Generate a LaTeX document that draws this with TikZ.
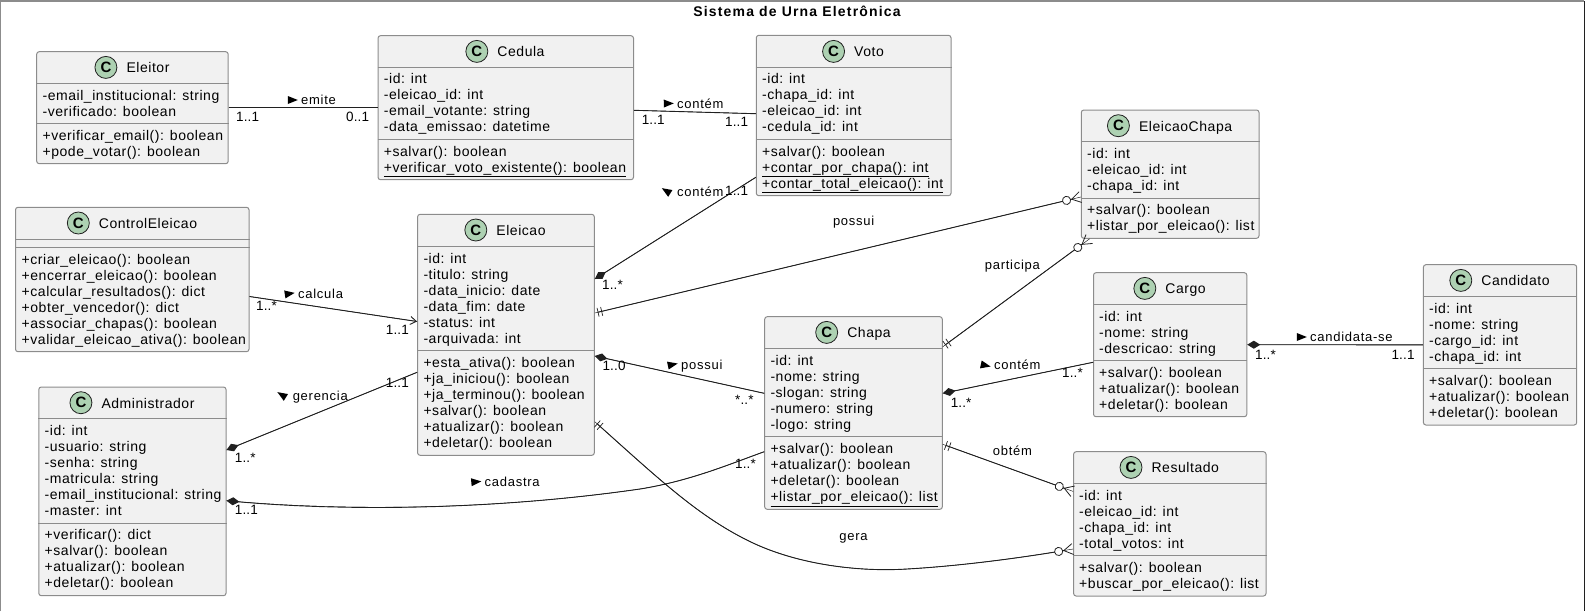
\documentclass[tikz,border=0pt]{standalone}
\usepackage{fontspec}
\setmainfont{Liberation Sans}
\usetikzlibrary{positioning,arrows.meta,shapes.geometric}
\definecolor{classfill}{HTML}{F1F1F1}
\definecolor{classline}{HTML}{8C8C8C}
\definecolor{iconfill}{HTML}{ADD1B2}
\definecolor{linkline}{HTML}{202020}
\tikzset{
  classbox/.style={draw=classline,fill=classfill,line width=1pt,rounded corners=2.5pt,inner sep=0pt},
  classtitle/.style={anchor=base,inner sep=0pt,font=\fontsize{14}{16}\selectfont\addfontfeature{LetterSpace=3.9}},
  classicon/.style={circle,draw=linkline,fill=iconfill,line width=.8pt,minimum size=22pt,inner sep=0pt,font=\fontsize{15}{15}\selectfont\bfseries},
  classsep/.style={draw=classline,line width=1pt},
  members/.style={anchor=north west,align=left,inner sep=0pt,font=\fontsize{14}{16}\selectfont\addfontfeature{LetterSpace=3.9}},
  linklabel/.style={anchor=base west,inner sep=0pt,font=\fontsize{13}{15}\selectfont\addfontfeature{LetterSpace=5.6}},
  mult/.style={anchor=base west,inner sep=0pt,font=\fontsize{13.5}{15}\selectfont\addfontfeature{LetterSpace=1}},
  dirmark/.style={isosceles triangle,isosceles triangle stretches,fill=black,inner sep=0pt,minimum width=8pt,minimum height=10pt},
  link/.style={draw=linkline,line width=.9pt,preaction={draw,arrows=-}},
  compstart/.style={arrows={{Diamond[length=13pt,width=8pt]}-}},
  onemany/.style={arrows={{Bar[width=9pt,sep=3pt,line width=.7pt]Bar[width=9pt,sep=3pt,line width=.7pt]}-{Circle[open,fill=white,length=9pt,line width=.8pt]Straight Barb[reversed,length=9pt,width=11pt,line width=.8pt]}}},
  openend/.style={arrows={-{Straight Barb[length=6pt,width=8pt,line width=.9pt]}}}
}
\begin{document}
\begin{tikzpicture}[x=1pt,y=-1pt]
  \useasboundingbox (0,0) rectangle (1585,611);
  \draw[classline,line width=1.4pt] (0.5,611) -- (0.5,1) -- (1584,1);
  \draw[linkline,line width=.8pt] (1584,1) -- (1584,611);
  \node[anchor=base,inner sep=0pt,font=\fontsize{14}{16}\selectfont\bfseries\addfontfeature{LetterSpace=8.5}] (frametitle) at (797,16) {Sistema de Urna Eletrônica};

  \node[classbox,minimum width=191.5pt,minimum height=112pt] (eleitor) at (132.45,107.7) {};
  \node[classtitle] (eleitortitle) at (148,72.7) {Eleitor};
  \node[classicon,left=9pt of eleitortitle.base west,yshift=5.3pt] (eleitoricon) {C};
  \draw[classsep] (eleitor.west |- 0,83.3) -- (eleitor.east |- 0,83.3);
  \draw[classsep] (eleitor.west |- 0,123.3) -- (eleitor.east |- 0,123.3);
  \node[members] (eleitorattrs) at (42.4,89.8) {-email\_institucional: string\\-verificado: boolean};
  \node[members] (eleitormeths) at (42.4,129.8) {+verificar\_email(): boolean\\+pode\_votar(): boolean};

  \node[classbox,minimum width=255.5pt,minimum height=144pt] (cedula) at (505.75,107.7) {};
  \node[classtitle] (cedulatitle) at (521,56.7) {Cedula};
  \node[classicon,left=9pt of cedulatitle.base west,yshift=5.3pt] (cedulaicon) {C};
  \draw[classsep] (cedula.west |- 0,67) -- (cedula.east |- 0,67);
  \draw[classsep] (cedula.west |- 0,139.3) -- (cedula.east |- 0,139.3);
  \node[members] (cedulaattrs) at (383.7,73.5) {-id: int\\-eleicao\_id: int\\-email\_votante: string\\-data\_emissao: datetime};
  \node[members] (cedulameths) at (383.7,145.8) {+salvar(): boolean\\\underline{+verificar\_voto\_existente(): boolean}};

  \node[classbox,minimum width=194.7pt,minimum height=160.4pt] (voto) at (853.65,115.5) {};
  \node[classtitle] (vototitle) at (869,56.7) {Voto};
  \node[classicon,left=9pt of vototitle.base west,yshift=5.3pt] (votoicon) {C};
  \draw[classsep] (voto.west |- 0,67) -- (voto.east |- 0,67);
  \draw[classsep] (voto.west |- 0,139.3) -- (voto.east |- 0,139.3);
  \node[members] (votoattrs) at (762,73.5) {-id: int\\-chapa\_id: int\\-eleicao\_id: int\\-cedula\_id: int};
  \node[members] (votometh) at (762,145.8) {+salvar(): boolean\\\underline{+contar\_por\_chapa(): int}\\\underline{+contar\_total\_eleicao(): int}};

  \node[classbox,minimum width=177.7pt,minimum height=128.3pt] (eleicaochapa) at (1170.15,174.15) {};
  \node[classtitle] (eleicaochapatitle) at (1185.6,131) {EleicaoChapa};
  \node[classicon,left=9pt of eleicaochapatitle.base west,yshift=5.3pt] (eleicaochapaicon) {C};
  \draw[classsep] (eleicaochapa.west |- 0,141.7) -- (eleicaochapa.east |- 0,141.7);
  \draw[classsep] (eleicaochapa.west |- 0,198) -- (eleicaochapa.east |- 0,198);
  \node[members] (eleicaochapaattrs) at (1087,148.2) {-id: int\\-eleicao\_id: int\\-chapa\_id: int};
  \node[members] (eleicaochapameths) at (1087,204.5) {+salvar(): boolean\\+listar\_por\_eleicao(): list};

  \node[classbox,minimum width=233.5pt,minimum height=144.4pt] (controleleicao) at (132.25,279.5) {};
  \node[classtitle] (controleleicaotitle) at (148,228.3) {ControlEleicao};
  \node[classicon,left=9pt of controleleicaotitle.base west,yshift=5.3pt] (controleleicaoicon) {C};
  \draw[classsep] (controleleicao.west |- 0,239) -- (controleleicao.east |- 0,239);
  \draw[classsep] (controleleicao.west |- 0,247.3) -- (controleleicao.east |- 0,247.3);
  \node[members] (controleleicaometh) at (21.5,253.8) {+criar\_eleicao(): boolean\\+encerrar\_eleicao(): boolean\\+calcular\_resultados(): dict\\+obter\_vencedor(): dict\\+associar\_chapas(): boolean\\+validar\_eleicao\_ativa(): boolean};

  \node[classbox,minimum width=176.7pt,minimum height=241pt] (eleicao) at (505.95,334.8) {};
  \node[classtitle] (eleicaotitle) at (521,235.3) {Eleicao};
  \node[classicon,left=9pt of eleicaotitle.base west,yshift=5.3pt] (eleicaoicon) {C};
  \draw[classsep] (eleicao.west |- 0,246.3) -- (eleicao.east |- 0,246.3);
  \draw[classsep] (eleicao.west |- 0,350.3) -- (eleicao.east |- 0,350.3);
  \node[members] (eleicaoattrs) at (423.3,252.8) {-id: int\\-titulo: string\\-data\_inicio: date\\-data\_fim: date\\-status: int\\-arquivada: int};
  \node[members] (eleicaometh) at (423.3,356.8) {+esta\_ativa(): boolean\\+ja\_iniciou(): boolean\\+ja\_terminou(): boolean\\+salvar(): boolean\\+atualizar(): boolean\\+deletar(): boolean};

  \node[classbox,minimum width=187.2pt,minimum height=208.7pt] (administrador) at (132.4,491.35) {};
  \node[classtitle] (administradortitle) at (148,408) {Administrador};
  \node[classicon,left=9pt of administradortitle.base west,yshift=5.3pt] (administradoricon) {C};
  \draw[classsep] (administrador.west |- 0,418.7) -- (administrador.east |- 0,418.7);
  \draw[classsep] (administrador.west |- 0,523) -- (administrador.east |- 0,523);
  \node[members] (administradorattrs) at (44.5,425.2) {-id: int\\-usuario: string\\-senha: string\\-matricula: string\\-email\_institucional: string\\-master: int};
  \node[members] (administradormeth) at (44.5,529.5) {+verificar(): dict\\+salvar(): boolean\\+atualizar(): boolean\\+deletar(): boolean};

  \node[classbox,minimum width=177.6pt,minimum height=192.6pt] (chapa) at (853.5,413) {};
  \node[classtitle] (chapatitle) at (869,337.7) {Chapa};
  \node[classicon,left=9pt of chapatitle.base west,yshift=5.3pt] (chapaicon) {C};
  \draw[classsep] (chapa.west |- 0,348.3) -- (chapa.east |- 0,348.3);
  \draw[classsep] (chapa.west |- 0,436.7) -- (chapa.east |- 0,436.7);
  \node[members] (chapaattrs) at (770.3,354.8) {-id: int\\-nome: string\\-slogan: string\\-numero: string\\-logo: string};
  \node[members] (chapameth) at (770.3,443.2) {+salvar(): boolean\\+atualizar(): boolean\\+deletar(): boolean\\\underline{+listar\_por\_eleicao(): list}};

  \node[classbox,minimum width=153.3pt,minimum height=144pt] (cargo) at (1170.15,344.7) {};
  \node[classtitle] (cargotitle) at (1185.6,293.7) {Cargo};
  \node[classicon,left=9pt of cargotitle.base west,yshift=5.3pt] (cargoicon) {C};
  \draw[classsep] (cargo.west |- 0,304.3) -- (cargo.east |- 0,304.3);
  \draw[classsep] (cargo.west |- 0,360.3) -- (cargo.east |- 0,360.3);
  \node[members] (cargoattrs) at (1099,310.8) {-id: int\\-nome: string\\-descricao: string};
  \node[members] (cargometh) at (1099,366.8) {+salvar(): boolean\\+atualizar(): boolean\\+deletar(): boolean};

  \node[classbox,minimum width=153.3pt,minimum height=160.3pt] (candidato) at (1500.05,344.85) {};
  \node[classtitle] (candidatotitle) at (1515.5,285.7) {Candidato};
  \node[classicon,left=9pt of candidatotitle.base west,yshift=5.3pt] (candidatoicon) {C};
  \draw[classsep] (candidato.west |- 0,296.3) -- (candidato.east |- 0,296.3);
  \draw[classsep] (candidato.west |- 0,368.7) -- (candidato.east |- 0,368.7);
  \node[members] (candidatoattrs) at (1429,302.8) {-id: int\\-nome: string\\-cargo\_id: int\\-chapa\_id: int};
  \node[members] (candidatometh) at (1429,375.2) {+salvar(): boolean\\+atualizar(): boolean\\+deletar(): boolean};

  \node[classbox,minimum width=192.4pt,minimum height=144.3pt] (resultado) at (1169.8,523.85) {};
  \node[classtitle] (resultadotitle) at (1185.3,472.7) {Resultado};
  \node[classicon,left=9pt of resultadotitle.base west,yshift=5.3pt] (resultadoicon) {C};
  \draw[classsep] (resultado.west |- 0,483.3) -- (resultado.east |- 0,483.3);
  \draw[classsep] (resultado.west |- 0,555.7) -- (resultado.east |- 0,555.7);
  \node[members] (resultadoattrs) at (1079,489.8) {-id: int\\-eleicao\_id: int\\-chapa\_id: int\\-total\_votos: int};
  \node[members] (resultadometh) at (1079,562.2) {+salvar(): boolean\\+buscar\_por\_eleicao(): list};

  \draw[link] ([yshift=.2pt]eleitor.east) -- ([yshift=.2pt]cedula.west);
  \draw[link] ([yshift=-2.6pt]cedula.east) -- ([yshift=1.8pt]voto.west);
  \draw[link,compstart] ([yshift=55.8pt]eleicao.east) -- ([yshift=-61.8pt]voto.west);
  \draw[link,onemany] ([yshift=21.8pt]eleicao.east) -- ([yshift=-22.85pt]eleicaochapa.west);
  \draw[link,onemany] ([yshift=66.3pt]chapa.east) -- ([xshift=-80.55pt]eleicaochapa.south);
  \draw[link,openend] ([yshift=-17pt]controleleicao.east) -- ([yshift=13.3pt]eleicao.west);
  \draw[link,compstart] ([yshift=41.35pt]administrador.east) -- ([yshift=-37.5pt]eleicao.west);
  \draw[link,compstart] ([yshift=-9.35pt]administrador.east) .. controls (330,510) and (480,512) .. (640,489) .. controls (690,481) and (730,464) .. ([yshift=-38.7pt]chapa.west);
  \draw[link,compstart] ([yshift=-21.2pt]eleicao.east) -- ([yshift=19.7pt]chapa.west);
  \draw[link,onemany] ([yshift=-86.9pt]eleicao.east) .. controls (660,480) and (700,518) .. (753,543) .. controls (800,565) and (860,572) .. (907,569) .. controls (960,566) and (1020,558) .. ([yshift=-25.15pt]resultado.west);
  \draw[link,compstart] ([yshift=19.7pt]chapa.east) -- ([yshift=-17.6pt]cargo.west);
  \draw[link,compstart] (cargo.east) -- (candidato.west);
  \draw[link,onemany] ([yshift=-31.3pt]chapa.east) -- ([yshift=32.45pt]resultado.west);

  \node[linklabel] (emitelabel) at (301,104.5) {emite};
  \node[dirmark] (emitemark) at ([xshift=-10.5pt,yshift=4.5pt]emitelabel.base west) {};
  \node[linklabel] (contemvotolabel) at (677,108) {contém};
  \node[dirmark,rotate=1] (contemvotomark) at ([xshift=-10.5pt,yshift=4.5pt]contemvotolabel.base west) {};
  \node[linklabel] (contemeleicaolabel) at (677,196.5) {contém};
  \node[dirmark,rotate=148] (contemeleicaomark) at ([xshift=-9pt,yshift=4.5pt]contemeleicaolabel.base west) {};
  \node[linklabel] (calculalabel) at (298,298.5) {calcula};
  \node[dirmark,rotate=9] (calculamark) at ([xshift=-10.5pt,yshift=4.5pt]calculalabel.base west) {};
  \node[linklabel] (gerencialabel) at (292.6,400.5) {gerencia};
  \node[dirmark,rotate=148] (gerenciamark) at ([xshift=-9pt,yshift=4.5pt]gerencialabel.base west) {};
  \node[linklabel] (cadastralabel) at (484.5,486.5) {cadastra};
  \node[dirmark,rotate=5] (cadastramark) at ([xshift=-10.5pt,yshift=4.5pt]cadastralabel.base west) {};
  \node[linklabel] (possuichapalabel) at (681,369.5) {possui};
  \node[dirmark,rotate=12] (possuichapamark) at ([xshift=-10.5pt,yshift=4.5pt]possuichapalabel.base west) {};
  \node[linklabel] (contemcargolabel) at (994,369.5) {contém};
  \node[dirmark,rotate=-12] (contemcargomark) at ([xshift=-10.5pt,yshift=4.5pt]contemcargolabel.base west) {};
  \node[linklabel] (candidatalabel) at (1310,341.5) {candidata-se};
  \node[dirmark] (candidatamark) at ([xshift=-10.5pt,yshift=4.5pt]candidatalabel.base west) {};
  \node[linklabel,anchor=base] (possuilabel) at (853.6,225.5) {possui};
  \node[linklabel,anchor=base] (participalabel) at (1012.4,269.5) {participa};
  \node[linklabel,anchor=base] (obtemlabel) at (1012.4,455.5) {obtém};
  \node[linklabel,anchor=base] (geralabel) at (853.5,540.5) {gera};

  \node[mult] (emitefrom) at (236,121) {1..1};
  \node[mult] (emiteto) at (346,121) {0..1};
  \node[mult] (contemvotofrom) at (641.6,124) {1..1};
  \node[mult] (contemvototo) at (725,126.7) {1..1};
  \node[mult] (contemeleicaofrom) at (602,289) {1..*};
  \node[mult] (contemeleicaoto) at (725,195) {1..1};
  \node[mult] (calculafrom) at (256,310) {1..*};
  \node[mult] (calculato) at (385.7,334) {1..1};
  \node[mult] (gerenciafrom) at (234.7,462.7) {1..*};
  \node[mult] (gerenciato) at (385.7,387.7) {1..1};
  \node[mult] (cadastrafrom) at (234.7,514) {1..1};
  \node[mult] (cadastrato) at (735,468.3) {1..*};
  \node[mult] (possuichapafrom) at (602.4,370) {1..0};
  \node[mult] (possuichapato) at (735,404) {*..*};
  \node[mult] (contemcargofrom) at (950.6,407) {1..*};
  \node[mult] (contemcargoto) at (1062,377) {1..*};
  \node[mult] (candidatafrom) at (1255,359) {1..*};
  \node[mult] (candidatato) at (1391.4,359) {1..1};
\end{tikzpicture}
\end{document}
